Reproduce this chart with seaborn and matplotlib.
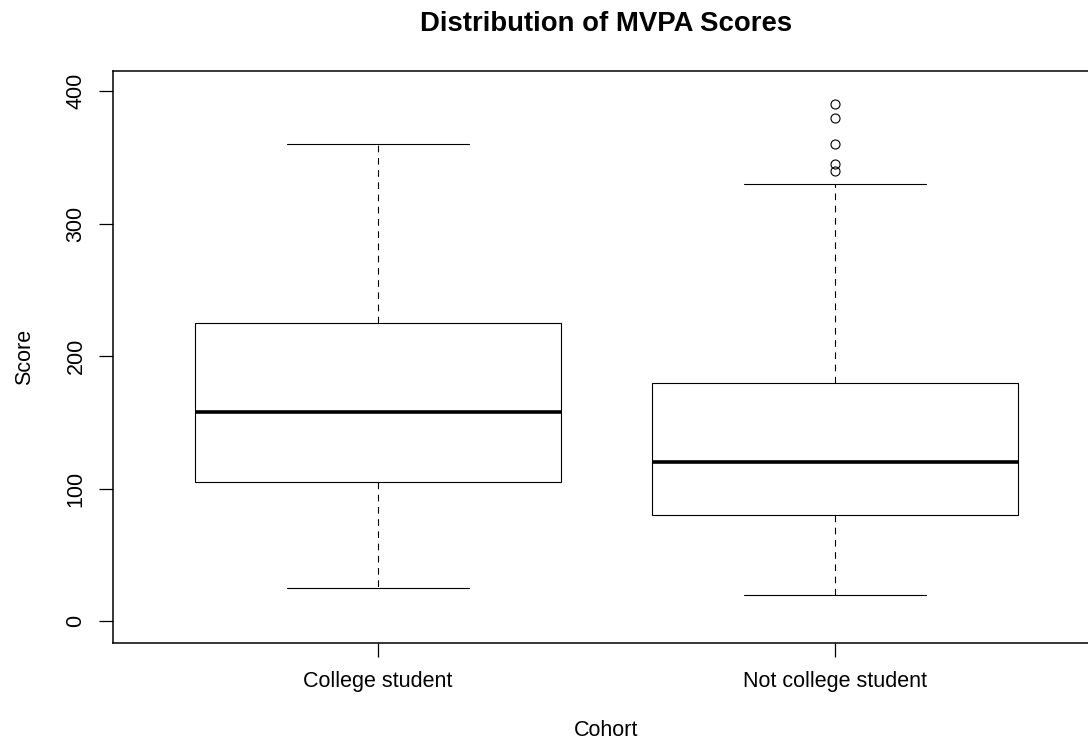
import numpy as np
import pandas as pd
import matplotlib
matplotlib.use("Agg")
import matplotlib.pyplot as plt
import seaborn as sns

# MVPA scores per cohort
categories = ["College student", "Not college student"]
college_scores = [25, 40, 55, 70, 85, 95, 105, 115, 125, 135, 145, 150, 158,
                  170, 180, 190, 200, 215, 225, 240, 260, 280, 300, 330, 360]
not_college_scores = [20, 30, 45, 55, 65, 75, 80, 90, 100, 105, 110, 115, 120,
                      130, 140, 150, 160, 170, 180, 330, 340, 345, 360, 380, 390]
y_ticks = [0, 100, 200, 300, 400]

df = pd.DataFrame({
    "Cohort": [categories[0]] * len(college_scores) + [categories[1]] * len(not_college_scores),
    "Score": college_scores + not_college_scores,
})

sns.set_style("white")
plt.rcParams["font.family"] = ["Liberation Sans", "DejaVu Sans"]
plt.rcParams["text.color"] = "black"
plt.rcParams["axes.labelcolor"] = "black"

fig = plt.figure(figsize=(10.88, 7.42), dpi=100)
ax = fig.add_axes([113 / 1088, 99 / 742, 987 / 1088, 572 / 742])

lw = 0.8
sns.boxplot(
    data=df, x="Cohort", y="Score", order=categories, ax=ax,
    color="white", linecolor="black", linewidth=lw, width=0.8, whis=1.5,
    boxprops=dict(facecolor="white", edgecolor="black", linewidth=lw),
    whiskerprops=dict(linestyle=(0, (6, 5)), color="black", linewidth=lw),
    capprops=dict(color="black", linewidth=lw),
    medianprops=dict(color="black", linewidth=2.6),
    flierprops=dict(marker="o", markersize=6.5, markerfacecolor="none",
                    markeredgecolor="black", markeredgewidth=0.8),
)

ax.set_xlim(-0.58, 1.58)
ax.set_ylim(-16.6, 415.1)
ax.set_yticks(y_ticks)
ax.set_yticklabels([str(v) for v in y_ticks], rotation=90, va="center")

for side in ax.spines.values():
    side.set_visible(True)
    side.set_color("black")
    side.set_linewidth(1.1)

ax.tick_params(axis="both", direction="out", length=10, width=0.9,
               colors="black", labelsize=15.5, left=True, bottom=True)
ax.tick_params(axis="y", pad=9)
ax.tick_params(axis="x", pad=10)

ax.set_xlabel("Cohort", fontsize=15.5, labelpad=20)
ax.set_ylabel("Score", fontsize=15.5, labelpad=22)
fig.suptitle("Distribution of MVPA Scores", fontsize=19.8, fontweight="bold",
             x=606.5 / 1088, y=1 - 11 / 742, va="top")

fig.savefig("out.png", dpi=100)
